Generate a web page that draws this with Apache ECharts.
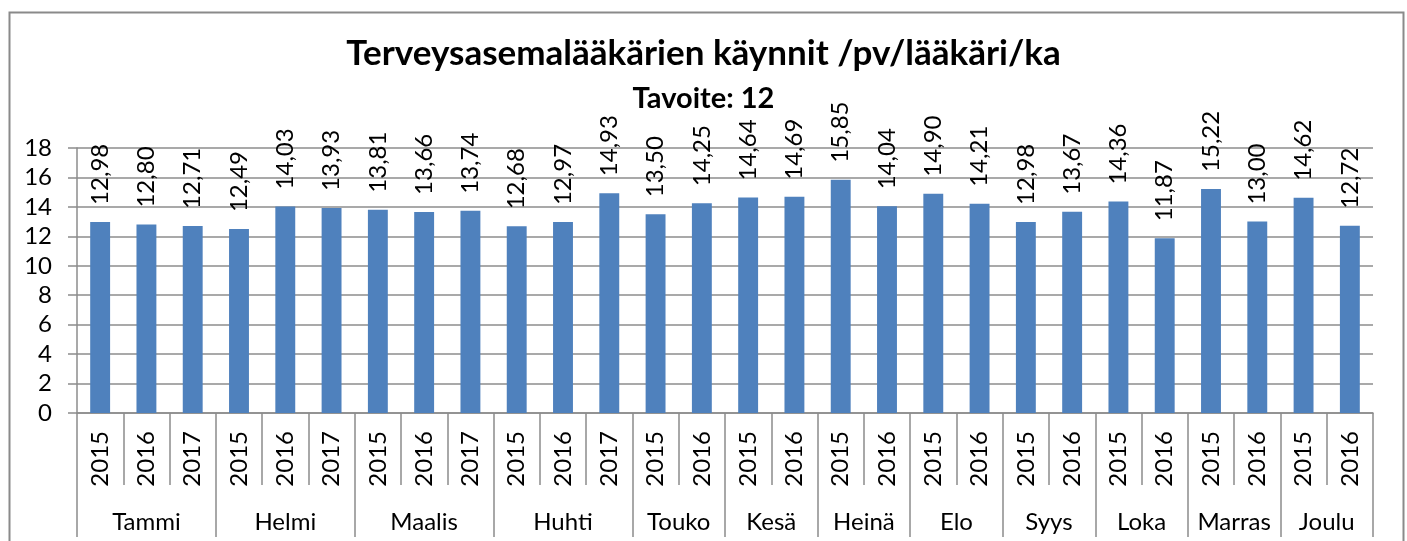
<!DOCTYPE html>
<html>
<head>
<meta charset="utf-8">
<script src="https://cdn.jsdelivr.net/npm/echarts@6/dist/echarts.min.js"></script>
<style>
html,body{margin:0;padding:0;background:#fff;}
#chart{width:1407px;height:541px;}
</style>
</head>
<body>
<div id="chart"></div>
<script>
// ---- data ----
const titleText = 'Terveysasemalääkärien käynnit /pv/lääkäri/ka';
const subtitleText = 'Tavoite: 12';
const months = ['Tammi','Helmi','Maalis','Huhti','Touko','Kesä','Heinä','Elo','Syys','Loka','Marras','Joulu'];
const monthYears = [
  ['2015','2016','2017'],
  ['2015','2016','2017'],
  ['2015','2016','2017'],
  ['2015','2016','2017'],
  ['2015','2016'],
  ['2015','2016'],
  ['2015','2016'],
  ['2015','2016'],
  ['2015','2016'],
  ['2015','2016'],
  ['2015','2016'],
  ['2015','2016']
];
const values = [
  12.98, 12.80, 12.71,
  12.49, 14.03, 13.93,
  13.81, 13.66, 13.74,
  12.68, 12.97, 14.93,
  13.50, 14.25,
  14.64, 14.69,
  15.85, 14.04,
  14.90, 14.21,
  12.98, 13.67,
  14.36, 11.87,
  15.22, 13.00,
  14.62, 12.72
];
const yTicks = [0, 2, 4, 6, 8, 10, 12, 14, 16, 18];

// ---- derived axis tables ----
const yearCats = [];
monthYears.forEach(ys => ys.forEach(y => yearCats.push(y)));
const nBars = yearCats.length;
const halfCats = new Array(2 * nBars + 1).fill('');
const boundarySet = new Set([0]);
const centerSet = new Set();
let pos = 0;
monthYears.forEach((ys, i) => {
  const c = pos * 2 + ys.length;
  halfCats[c] = months[i];
  centerSet.add(c);
  pos += ys.length;
  boundarySet.add(pos * 2);
});

const FONT = 'Lato';
const GRAY = '#8c8c8c';
const FS = 24;

const chart = echarts.init(document.getElementById('chart'), null, {renderer: 'canvas'});
chart.setOption({
  animation: false,
  backgroundColor: '#ffffff',
  textStyle: {fontFamily: FONT},
  title: [
    {text: titleText, left: 'center', top: 31,
     textStyle: {fontFamily: FONT, fontWeight: 'bold', fontSize: 35, color: '#000'}},
    {text: subtitleText, left: 'center', top: 79,
     textStyle: {fontFamily: FONT, fontWeight: 'bold', fontSize: 29, color: '#000'}}
  ],
  graphic: [{
    type: 'rect', left: 7, top: 10, silent: true,
    shape: {width: 1394, height: 540},
    style: {fill: 'none', stroke: '#8a8a8a', lineWidth: 2}
  }],
  grid: {left: 77, right: 34, top: 148, bottom: 128, containLabel: false},
  xAxis: [
    {
      type: 'category', data: yearCats, position: 'bottom', boundaryGap: true,
      axisLine: {show: true, lineStyle: {color: GRAY, width: 1.5}},
      axisTick: {show: true, length: 72, lineStyle: {color: GRAY, width: 1.5}},
      axisLabel: {rotate: 90, margin: 18, interval: 0, fontSize: FS, color: '#000', fontFamily: FONT},
      splitLine: {show: false}
    },
    {
      type: 'category', data: halfCats, position: 'bottom', boundaryGap: false,
      axisLine: {show: false},
      axisTick: {show: true, length: 124, interval: (i) => boundarySet.has(i), lineStyle: {color: GRAY, width: 1.5}},
      axisLabel: {show: true, margin: 97, interval: (i) => centerSet.has(i), fontSize: FS, color: '#000', fontFamily: FONT},
      splitLine: {show: false}
    }
  ],
  yAxis: {
    type: 'value', min: yTicks[0], max: yTicks[yTicks.length - 1], interval: 2,
    axisLine: {show: true, lineStyle: {color: GRAY, width: 1.5}},
    axisTick: {show: true, length: 9, lineStyle: {color: GRAY, width: 1.5}},
    axisLabel: {margin: 25, fontSize: FS, color: '#000', fontFamily: FONT},
    splitLine: {show: true, lineStyle: {color: GRAY, width: 1.5}}
  },
  series: [{
    type: 'bar', xAxisIndex: 0, data: values, barWidth: '43%',
    itemStyle: {color: '#4f81bd'},
    label: {
      show: true, position: 'top', rotate: 90, align: 'left', verticalAlign: 'middle',
      distance: 17, fontSize: FS, color: '#000', fontFamily: FONT,
      formatter: (p) => p.value.toFixed(2).replace('.', ',')
    }
  }]
});
</script>
</body>
</html>
